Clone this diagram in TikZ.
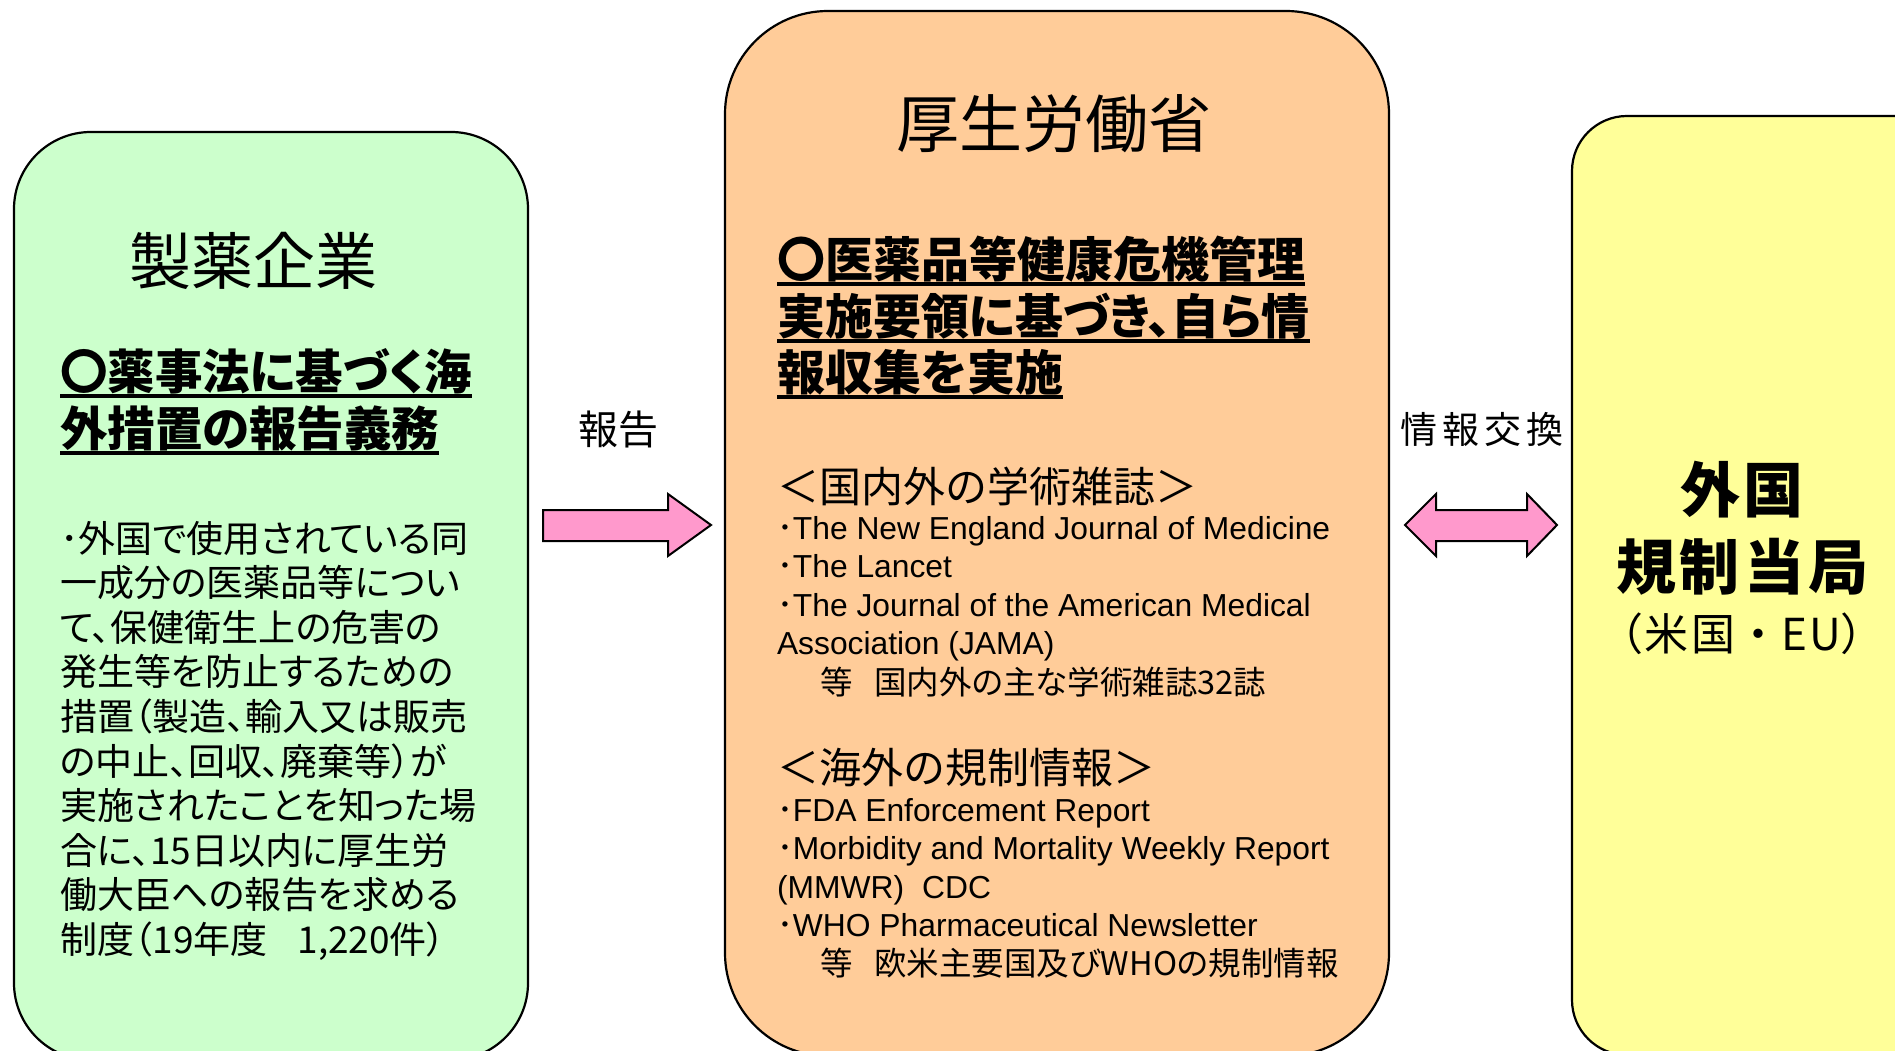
\documentclass[tikz,border=0pt]{standalone}
\usepackage{fontspec}
\setmainfont{Liberation Sans}
\newfontfamily\jp[RawFeature=+palt]{Noto Sans CJK JP}
\newfontfamily\jpm{Noto Sans CJK JP}
\newcommand{\setfs}[1]{\fontsize{#1pt}{#1pt}\selectfont}
\definecolor{greenfill}{HTML}{CCFFCC}
\definecolor{orangefill}{HTML}{FFCC99}
\definecolor{yellowfill}{HTML}{FFFF99}
\definecolor{pinkfill}{HTML}{FF99CC}
\tikzset{
  boxline/.style={draw=black, line width=2.2pt},
  blockarrow/.style={draw=black, line width=2pt, fill=pinkfill, line join=miter},
  txt/.style={inner sep=0pt, outer sep=0pt, anchor=base west},
  ctxt/.style={inner sep=0pt, outer sep=0pt, anchor=base},
  uline/.style={line width=3.5pt},
}
\begin{document}
\begin{tikzpicture}[x=1pt,y=-1pt]
\clip (0,0) rectangle (1895,1051);
\fill[white] (0,0) rectangle (1895,1051);
% boxes
\draw[boxline, fill=greenfill, rounded corners=77pt] (14,132) rectangle (528,1060);
\draw[boxline, fill=orangefill, rounded corners=103pt] (725,11) rectangle (1389,1056);
\draw[boxline, fill=yellowfill, rounded corners=55pt] (1572,116) rectangle (1960,1055);
% arrows
\draw[blockarrow] (543,510) -- (668,510) -- (668,494) -- (711,525) -- (668,556) -- (668,541) -- (543,541) -- cycle;
\draw[blockarrow] (1405,525) -- (1436,494) -- (1436,510) -- (1527,510) -- (1527,494) -- (1557,525) -- (1527,556) -- (1527,541) -- (1436,541) -- (1436,556) -- cycle;
% left box
\node[ctxt] (lt) at (253,284) {\jpm\setfs{62}製薬企業};
\node[txt] (lh1) at (60,389) {\jp\bfseries\setfs{47.5}〇薬事法に基づく海};
\node[txt] (lh2) at (60,446) {\jp\bfseries\setfs{47.5}外措置の報告義務};
\draw[uline] ([yshift=-7pt]lh1.base west) -- ([yshift=-7pt]lh1.base east);
\draw[uline] ([yshift=-7pt]lh2.base west) -- ([yshift=-7pt]lh2.base east);
\foreach \t [count=\i from 0] in {
  {･外国で使用されている同},
  {一成分の医薬品等につい},
  {て、保健衛生上の危害の},
  {発生等を防止するための},
  {措置（製造、輸入又は販売},
  {の中止、回収、廃棄等）が},
  {実施されたことを知った場},
  {合に、15日以内に厚生労},
  {働大臣への報告を求める},
  {制度（19年度\hspace{30pt}1,220件）}}
  \node[txt] (lb\i) at (60,552+44.6*\i) {\jp\setfs{37}\t};
% middle box
\node[ctxt] (mt) at (1054,148) {\jpm\setfs{63}厚生労働省};
\node[txt] (mh1) at (777,277) {\jp\bfseries\setfs{48}〇医薬品等健康危機管理};
\node[txt] (mh2) at (777,334) {\jp\bfseries\setfs{48}実施要領に基づき、自ら情};
\node[txt] (mh3) at (777,390) {\jp\bfseries\setfs{48}報収集を実施};
\draw[uline] ([yshift=-7pt]mh1.base west) -- ([yshift=-7pt]mh1.base east);
\draw[uline] ([yshift=-7pt]mh2.base west) -- ([yshift=-7pt]mh2.base east);
\draw[uline] ([yshift=-7pt]mh3.base west) -- ([yshift=-7pt]mh3.base east);
\node[txt] (ms1) at (777,502) {\jpm\setfs{42}＜国内外の学術雑誌＞};
\node[txt] (ma1) at (777,539) {\setfs{31.8}{\jp ･}The New England Journal of Medicine};
\node[txt] (ma2) at (777,577.6) {\setfs{31.8}{\jp ･}The Lancet};
\node[txt] (ma3) at (777,616.2) {\setfs{31.8}{\jp ･}The Journal of the American Medical};
\node[txt] (ma4) at (777,654.8) {\setfs{31.8}Association (JAMA)};
\node[txt] (ma5) at (777,694) {\jp\setfs{32.5}\hspace*{43pt}等\hspace{22pt}国内外の主な学術雑誌32誌};
\node[txt] (ms2) at (777,783) {\jpm\setfs{42}＜海外の規制情報＞};
\node[txt] (mb1) at (777,821) {\setfs{31.8}{\jp ･}FDA Enforcement Report};
\node[txt] (mb2) at (777,859.5) {\setfs{31.8}{\jp ･}Morbidity and Mortality Weekly Report};
\node[txt] (mb3) at (777,898) {\setfs{31.8}(MMWR)\hspace{18pt}CDC};
\node[txt] (mb4) at (777,936.5) {\setfs{31.8}{\jp ･}WHO Pharmaceutical Newsletter};
\node[txt] (mb5) at (777,975) {\jp\setfs{32.5}\hspace*{43pt}等\hspace{22pt}欧米主要国及びWHOの規制情報};
% arrow labels
\node[ctxt] (l1) at (618,444) {\jpm\setfs{40}報告};
\node[ctxt] (l2) at (1482,443) {\jpm\setfs{37}情\hspace{5pt}報\hspace{5pt}交\hspace{5pt}換};
% right box
\node[ctxt] (r1) at (1742,512) {\jpm\bfseries\setfs{60}外\hspace{4pt}国};
\node[ctxt] (r2) at (1742,589) {\jpm\bfseries\setfs{60}規\hspace{4pt}制\hspace{4pt}当\hspace{4pt}局};
\node[ctxt] (r3) at (1742,650) {\jpm\setfs{44}（\hspace{1pt}米\hspace{3pt}国\hspace{1pt}・\hspace{1pt}E\hspace{2pt}U）};
\end{tikzpicture}
\end{document}
